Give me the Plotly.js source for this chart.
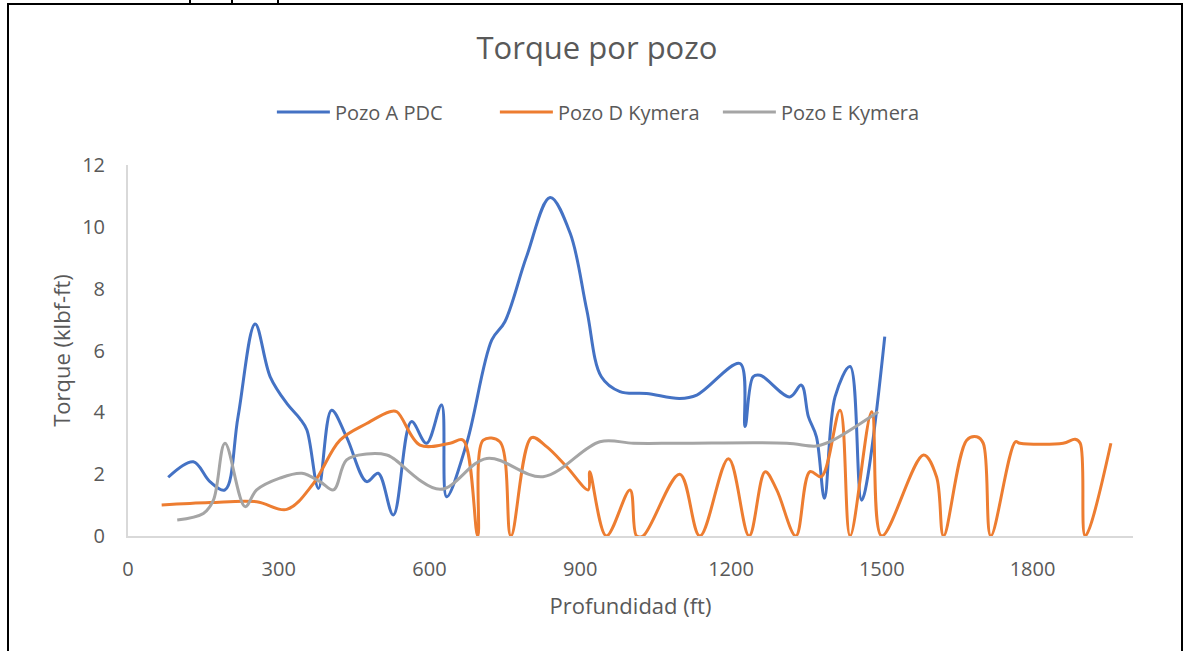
<!DOCTYPE html>
<html>
<head>
<meta charset="utf-8">
<script src="https://cdn.plot.ly/plotly-3.0.1.min.js"></script>
<style>
  html, body { margin: 0; padding: 0; background: #fff; }
  #wrap { position: relative; width: 1188px; height: 651px; overflow: hidden; }
  #chart { width: 1188px; height: 651px; }
  .frame { position: absolute; left: 7px; top: 3px; width: 1176px; height: 700px; border: 2px solid #000; box-sizing: border-box; pointer-events: none; }
  .tick { position: absolute; top: 0; width: 2px; height: 4px; background: #000; }
</style>
</head>
<body>
<div id="wrap">
  <div id="chart"></div>
  <div class="frame"></div>
  <div class="tick" style="left:189px"></div>
  <div class="tick" style="left:231px"></div>
  <div class="tick" style="left:277px"></div>
</div>
<script>
// Pozo A PDC
const depthA  = [80,130,163,193,219,253,283,316,342,356,379,405,435,475,498,528,564,594,624,634,674,724,750,793,840,880,913,942,979,1032,1098,1132,1218,1228,1244,1258,1317,1340,1354,1370,1386,1407,1437,1460,1506];
const torqueA = [1.9,2.4,1.76,1.49,3.86,6.86,5.15,4.29,3.8,3.43,1.54,4.07,3.2,1.76,2.03,0.68,3.7,3.0,4.24,1.27,3.0,6.34,6.93,9.03,10.95,9.79,7.31,5.15,4.67,4.61,4.45,4.56,5.58,3.54,5.15,5.2,4.5,4.88,3.86,3.21,1.22,4.5,5.48,1.16,6.45];

// Pozo D Kymera
const depthD  = [67,163,256,316,369,422,475,521,535,581,641,667,696,707,740,762,803,833,873,916,919,952,999,1012,1025,1098,1138,1195,1236,1268,1291,1329,1357,1380,1417,1437,1480,1500,1583,1609,1623,1669,1689,1702,1717,1766,1775,1861,1885,1895,1905,1956];
const torqueD = [1.0,1.08,1.11,0.86,1.7,3.1,3.64,4.02,4.02,2.94,3.0,3.1,0,3.1,3.05,0,3.18,2.89,2.24,1.49,2.08,0,1.49,0,0,2.0,0,2.5,0,2.08,1.49,0,2.08,1.92,4.07,0,4.02,0,2.62,1.92,0,3.1,3.21,3.0,0,3.05,3.0,3.0,3.13,3.0,0,3.0];

// Pozo E Kymera
const depthE  = [98,150,170,193,233,256,302,346,382,409,435,475,515,528,621,714,826,939,1006,1098,1311,1370,1397,1493];
const torqueE = [0.52,0.73,1.16,3.0,0.95,1.49,1.87,2.03,1.76,1.49,2.46,2.65,2.62,2.51,1.51,2.51,1.92,3.05,3.0,3.0,3.0,2.91,3.05,4.02];

const seriesNames = ['Pozo A PDC', 'Pozo D Kymera', 'Pozo E Kymera'];
const xTicks = [0, 300, 600, 900, 1200, 1500, 1800];
const yTicks = [0, 2, 4, 6, 8, 10, 12];

const txt = '#595959';
const fontFam = '"Open Sans", "Noto Sans", sans-serif';

function mk(x, y, name, color) {
  return { x: x, y: y, name: name, type: 'scatter', mode: 'lines',
           line: { color: color, width: 3, shape: 'spline', smoothing: 1 },
           hoverinfo: 'x+y+name' };
}

const data = [
  mk(depthA, torqueA, seriesNames[0], '#4472C4'),
  mk(depthD, torqueD, seriesNames[1], '#ED7D31'),
  mk(depthE, torqueE, seriesNames[2], '#A5A5A5')
];

const layout = {
  width: 1188, height: 651,
  margin: { l: 128, r: 55, t: 165, b: 115, pad: 0 },
  paper_bgcolor: '#fff', plot_bgcolor: '#fff',
  font: { family: fontFam, color: txt, size: 20 },
  title: { text: 'Torque por pozo', font: { size: 31, color: txt, family: fontFam },
           x: 0.5025, xref: 'container', xanchor: 'center', y: 0.926, yref: 'container', yanchor: 'middle' },
  showlegend: true,
  legend: { orientation: 'h', x: 0.476, xanchor: 'center', y: 1.143, yanchor: 'middle',
            itemwidth: 53, entrywidth: 155, entrywidthmode: 'pixels',
            font: { size: 20, color: txt }, bgcolor: 'rgba(0,0,0,0)' },
  xaxis: {
    range: [0, 2000], tickmode: 'array', tickvals: xTicks, ticktext: xTicks.map(String),
    showgrid: false, zeroline: false, showline: true, linecolor: '#D9D9D9', linewidth: 2,
    ticks: '', ticklabelstandoff: 14, tickfont: { size: 20, color: txt },
    title: { text: 'Profundidad (ft)', font: { size: 22, color: txt }, standoff: 18 },
    automargin: false, fixedrange: true
  },
  yaxis: {
    range: [0, 12], tickmode: 'array', tickvals: yTicks, ticktext: yTicks.map(String),
    showgrid: false, zeroline: false, showline: true, linecolor: '#D9D9D9', linewidth: 2,
    ticks: '', ticklabelstandoff: 17, tickfont: { size: 20, color: txt },
    title: { text: 'Torque (klbf-ft)', font: { size: 22, color: txt }, standoff: 5 },
    automargin: false, fixedrange: true
  }
};

Plotly.newPlot('chart', data, layout, { displayModeBar: false, staticPlot: false });
</script>
</body>
</html>
